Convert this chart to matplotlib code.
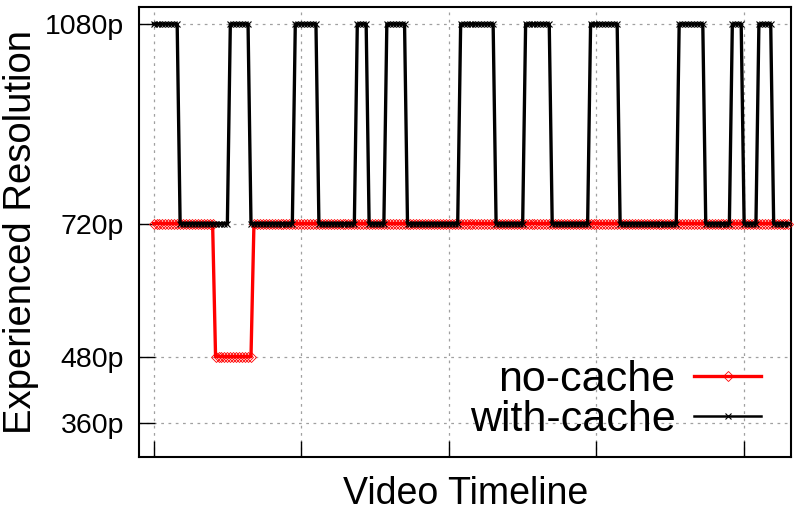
import numpy as np
import matplotlib
matplotlib.use("Agg")
import matplotlib.pyplot as plt

plt.rcParams['font.family'] = ['Liberation Sans', 'DejaVu Sans']

# resolution per run of samples (run-length form)
nocache_levels = [720, 480, 720]
nocache_runs = [21, 13, 182]

cache_levels = [1080, 720, 1080, 720, 1080, 720, 1080, 720, 1080, 720, 1080,
                720, 1080, 720, 1080, 720, 1080, 720, 1080, 720, 1080, 720]
cache_runs = [9, 17, 7, 15, 8, 13, 4, 6, 7, 18, 12,
              10, 9, 13, 10, 20, 9, 9, 4, 5, 5, 6]

ytick_vals = [360, 480, 720, 1080]
ytick_labels = ['360p', '480p', '720p', '1080p']
xtick_vals = [0, 50, 100, 150, 200]

nocache = np.repeat(nocache_levels, nocache_runs)
cache = np.repeat(cache_levels, cache_runs)
t = np.arange(len(cache))

fig = plt.figure(figsize=(8.01, 5.11), dpi=100)
ax = fig.add_axes([0.174, 0.1057, 0.814, 0.88])

ax.plot(t, nocache, color='#ff0000', lw=2.4, marker='D', ms=5.5,
        mfc='none', mec='#ff0000', mew=0.6, label='no-cache', clip_on=False, zorder=3)
ax.plot(t, cache, color='black', lw=2.4, marker='x', ms=4,
        mew=0.8, label='with-cache', clip_on=False, zorder=4)

ax.set_xlim(-4.8, 216)
ax.set_ylim(299, 1110)
ax.set_yticks(ytick_vals)
ax.set_yticklabels(ytick_labels)
ax.set_xticks(xtick_vals)
ax.set_xticklabels([])

ax.grid(True, color='#a0a0a0', lw=0.9, linestyle=(0, (2.2, 3.6)))
ax.set_axisbelow(True)
ax.tick_params(direction='in', length=11.5, width=1.0, labelsize=20.5, pad=11,
               top=False, right=False)
for s in ax.spines.values():
    s.set_linewidth(1.5)

ax.set_xlabel('Video Timeline', fontsize=27, labelpad=3)
ax.set_ylabel('Experienced Resolution', fontsize=27.5, labelpad=4)

leg = ax.legend(loc='lower right', frameon=False, fontsize=31, markerfirst=False,
                handlelength=1.55, handletextpad=0.44, labelspacing=0.0,
                borderaxespad=0.0, numpoints=1, bbox_to_anchor=(0.98, 0.0))
leg.get_lines()[1].set_linewidth(1.8)

fig.savefig('out.png', dpi=100)
